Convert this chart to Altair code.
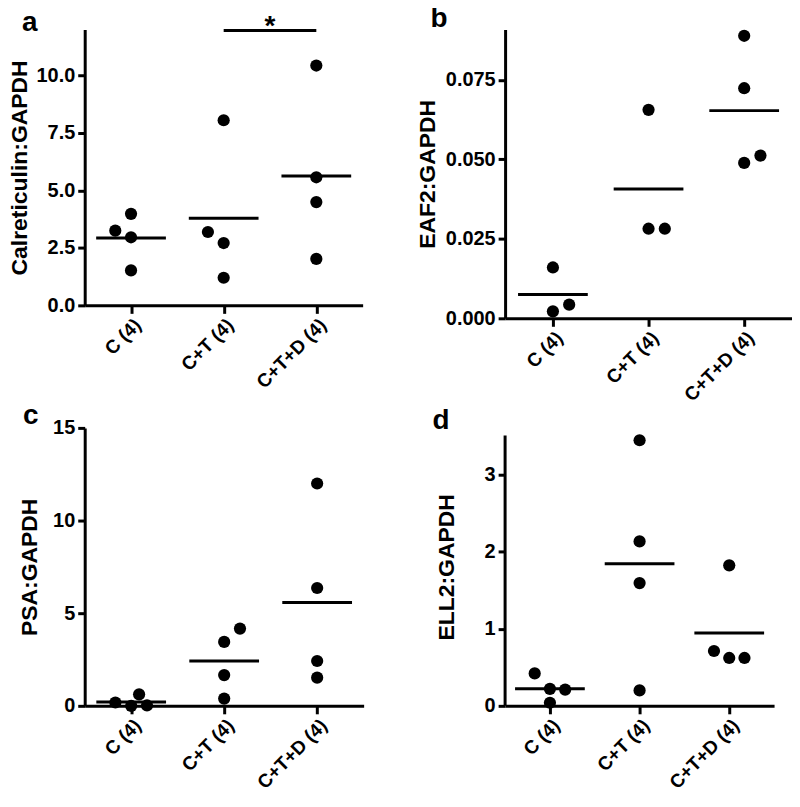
import altair as alt
import pandas as pd

FONT = "Liberation Sans"
groups = ["C (4)", "C+T (4)", "C+T+D (4)"]

# Panel a: Calreticulin
a_group = [1, 1, 1, 1, 2, 2, 2, 2, 3, 3, 3, 3]
a_value = [3.25, 3.98, 2.96, 1.52, 3.19, 8.05, 2.71, 1.20, 10.43, 5.57, 4.49, 2.02]
a_slot = [-1, 0, 0, 0, -1, 0, 0, 0, 0, 0, 0, 0]

# Panel b: EAF2
b_group = [1, 1, 1, 2, 2, 2, 3, 3, 3, 3]
b_value = [0.0160, 0.0022, 0.0043, 0.0656, 0.0282, 0.0282, 0.0889, 0.0724, 0.0489, 0.0512]
b_slot = [0, 0, 1, 0, 0, 1, 0, 0, 0, 1]

# Panel c: PSA
c_group = [1, 1, 1, 1, 2, 2, 2, 2, 3, 3, 3, 3]
c_value = [0.18, 0.62, 0.02, 0.0, 0.39, 1.66, 3.45, 4.17, 12.0, 6.36, 2.42, 1.52]
c_slot = [-1, 0.5, 1, 0, 0, 0, 0, 1, 0, 0, 0, 0]

# Panel d: ELL2
d_group = [1, 1, 1, 1, 2, 2, 2, 2, 3, 3, 3, 3]
d_value = [0.42, 0.22, 0.21, 0.04, 3.44, 2.13, 1.59, 0.20, 1.82, 0.71, 0.62, 0.62]
d_slot = [-1, 0, 1, 0, 0, 0, 0, 0, 0, -1, 0, 1]

# significance bar in panel a
sig_from = [2]
sig_to = [3]
sig_y = [11.95]
sig_text = ["*"]

label_expr = "[''," + ",".join("'" + g + "'" for g in groups) + "][datum.value]"


def panel(letter, ytitle, grp, val, slot, ymax, yticks, yfmt, width, height,
          tpad, ldx, ldy, sig=False, axis_top=None):
    df = pd.DataFrame({"g": grp, "v": val, "s": slot})
    xenc = alt.X(
        "xpos:Q",
        scale=alt.Scale(domain=[0.5, 3.5], nice=False, zero=False),
        axis=alt.Axis(values=[1, 2, 3], labelExpr=label_expr, title=None,
                      labelAngle=-45, labelAlign="right", labelBaseline="top",
                      tickSize=8, labelPadding=2, labelFontSize=19),
    )
    yenc = alt.Y(
        "v:Q",
        scale=alt.Scale(domain=[0, ymax], nice=False, zero=True),
        axis=alt.Axis(values=yticks, format=yfmt, title=ytitle,
                      titlePadding=tpad, labelPadding=3,
                      domain=axis_top is None),
    )
    base = alt.Chart(df)
    pts = base.transform_calculate(xpos="datum.g + 0.17*datum.s").mark_circle(
        size=150, color="black", opacity=1
    ).encode(x=xenc, y=yenc)
    means = base.transform_aggregate(v="mean(v)", groupby=["g"]).transform_calculate(
        xpos="datum.g"
    ).mark_tick(orient="horizontal", size=70, thickness=3, color="black",
                opacity=1).encode(x=xenc, y=yenc)
    layers = [pts, means]
    if axis_top is not None:
        adf = pd.DataFrame({"x": [0.5], "y0": [0], "y1": [axis_top]})
        layers.append(
            alt.Chart(adf).mark_rule(color="black", strokeWidth=3).encode(
                x=alt.X("x:Q"), y=alt.Y("y0:Q"), y2="y1:Q"
            )
        )
    if sig:
        sdf = pd.DataFrame({"x1": sig_from, "x2": sig_to, "y": sig_y, "t": sig_text})
        rule = alt.Chart(sdf).mark_rule(color="black", strokeWidth=3, clip=False).encode(
            x=alt.X("x1:Q"), x2="x2:Q", y=alt.Y("y:Q")
        )
        star = alt.Chart(sdf).transform_calculate(xm="(datum.x1 + datum.x2)/2").mark_text(
            fontSize=28, fontWeight="bold", font=FONT, baseline="alphabetic",
            dy=4, color="black", clip=False
        ).encode(x=alt.X("xm:Q"), y=alt.Y("y:Q"), text="t:N")
        layers += [rule, star]
    return alt.layer(*layers).properties(
        width=width,
        height=height,
        title=alt.TitleParams(
            text=letter, anchor="start", frame="group", fontSize=28,
            fontWeight="bold", font=FONT, color="black", dx=ldx, dy=ldy,
        ),
    )


pa = panel("a", "Calreticulin:GAPDH", a_group, a_value, a_slot, 12,
           [0, 2.5, 5, 7.5, 10], ".1f", 279, 277, 5, -63, 28, sig=True)
pb = panel("b", "EAF2:GAPDH", b_group, b_value, b_slot, 0.0909,
           [0, 0.025, 0.05, 0.075], ".3f", 288, 290, 6, -75, 8)
pc = panel("c", "PSA:GAPDH", c_group, c_value, c_slot, 15,
           [0, 5, 10, 15], "d", 280, 279, 11, -62, 16)
pd_ = panel("d", "ELL2:GAPDH", d_group, d_value, d_slot, 3.6,
            [0, 1, 2, 3], "d", 270, 279, 26, -73, 11, axis_top=3.5)

chart = alt.concat(
    pa, pb, pc, pd_, columns=2,
    spacing={"row": 110, "column": 142},
    bounds="flush", align="each",
).properties(
    padding={"left": 0, "top": -4, "right": 0, "bottom": 0},
).configure(
    font=FONT,
).configure_view(
    stroke=None,
).configure_axis(
    grid=False,
    domainColor="black",
    domainWidth=3,
    tickColor="black",
    tickWidth=3,
    tickSize=7,
    labelFont=FONT,
    labelFontSize=20,
    labelFontWeight="bold",
    labelColor="black",
    titleFont=FONT,
    titleFontSize=23,
    titleFontWeight="bold",
    titleColor="black",
)

chart.save("out.html", embed_options={"renderer": "svg", "actions": False})
